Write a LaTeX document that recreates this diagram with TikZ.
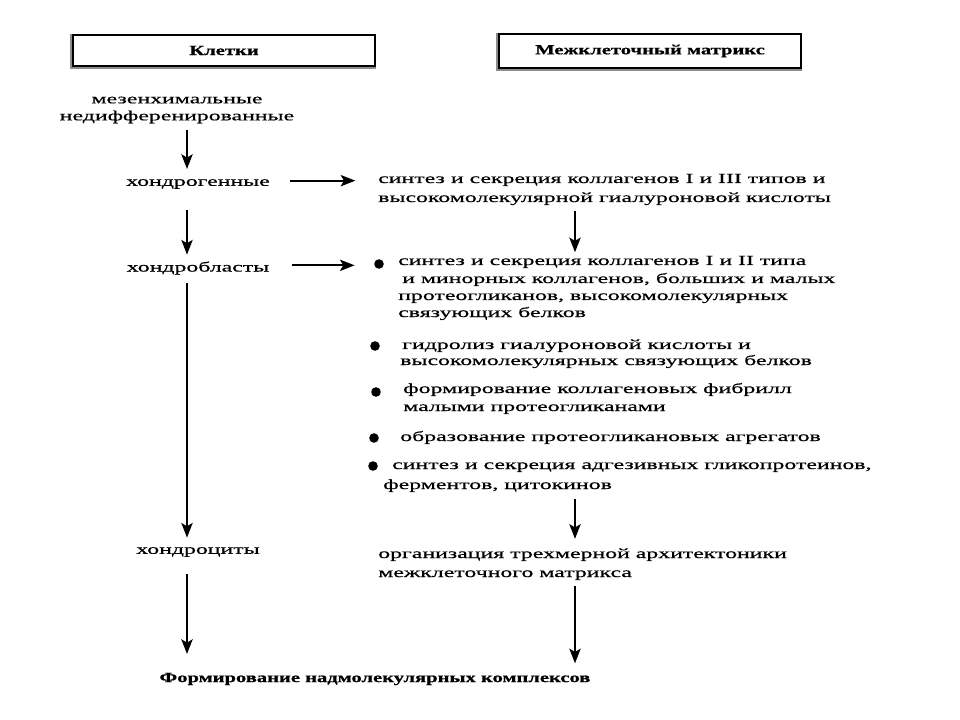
\documentclass[tikz,border=0pt]{standalone}
\usepackage{fontspec}
\setmainfont{Liberation Serif}[FakeStretch=1.7, FakeBold=0.6]
\newfontfamily\bfont{Liberation Serif Bold}[FakeStretch=1.47, FakeBold=0.8]
\usetikzlibrary{arrows.meta}
\begin{document}
\begin{tikzpicture}[x=0.75pt,y=-0.75pt,
  every node/.style={font=\fontsize{10.5}{12.75}\selectfont, inner sep=0pt},
  ln/.style={anchor=base west},
  ctr/.style={align=center},
  bld/.style={font=\fontsize{10.5}{12}\bfont},
  hd/.style={bld, draw=black, line width=1pt},
  shd/.style={draw=black!45, line width=1.6pt},
  arr/.style={line width=1.3pt, -{Stealth[length=11pt,width=8.5pt,inset=2.5pt]}},
  bul/.style={circle, fill=black, minimum size=7.2pt, inner sep=0pt}]
\useasboundingbox (0,0) rectangle (960,720);
\coordinate (L) at (187,0);
\coordinate (R) at (575,0);
% headers
\node[hd, minimum width=226.5pt, minimum height=23.25pt] (hc) at (224,50.5) {Клетки};
\node[hd, minimum width=226.5pt, minimum height=25.5pt] (hm) at (650,51) {Межклеточный матрикс};
\draw[shd] ([xshift=-1.2pt]hc.north west) -- ([xshift=-1.2pt,yshift=-1pt]hc.south west) -- ([yshift=-1pt]hc.south east);
\draw[shd] ([xshift=-1.2pt]hm.north west) -- ([xshift=-1.2pt,yshift=-1pt]hm.south west) -- ([yshift=-1pt]hm.south east);
% left column
\node[ctr] (mes) at (177,110) {мезенхимальные\\недифференированные};
\node (chg) at (198,184) {хондрогенные};
\node (chb) at (198,268) {хондробласты};
\node (chc) at (198,552) {хондроциты};
% right column
\node[ln] (r1a) at (378,183) {синтез и секреция коллагенов I и III типов и};
\node[ln] (r1b) at (378,202) {высокомолекулярной гиалуроновой кислоты};
\node[bul] (d1) at (379,264) {};
\node[ln] (b1a) at (398,265) {синтез и секреция коллагенов I и II типа};
\node[ln] (b1b) at (402,283) {и минорных коллагенов, больших и малых};
\node[ln] (b1c) at (398,300) {протеогликанов, высокомолекулярных};
\node[ln] (b1d) at (398,317) {связующих белков};
\node[bul] (d2) at (375,346) {};
\node[ln] (b2a) at (402,349) {гидролиз гиалуроновой кислоты и};
\node[ln] (b2b) at (400,365) {высокомолекулярных связующих белков};
\node[bul] (d3) at (376,392) {};
\node[ln] (b3a) at (403,393) {формирование коллагеновых фибрилл};
\node[ln] (b3b) at (403,411) {малыми протеогликанами};
\node[bul] (d4) at (374,438) {};
\node[ln] (b4a) at (400,441) {образование протеогликановых агрегатов};
\node[bul] (d5) at (373,466) {};
\node[ln] (b5a) at (392,469) {синтез и секреция адгезивных гликопротеинов,};
\node[ln] (b5b) at (383,489) {ферментов, цитокинов};
\node[ln] (oa) at (378,558) {организация трехмерной архитектоники};
\node[ln] (ob) at (378,577) {межклеточного матрикса};
\node[bld] (fin) at (375,679) {Формирование надмолекулярных комплексов};
% arrows left
\draw[arr, shorten <=4.5pt, shorten >=7.5pt] (L |- mes.south) -- (L |- chg.north);
\draw[arr, shorten <=16pt, shorten >=5pt] (L |- chg.south) -- (L |- chb.north);
\draw[arr, shorten <=6pt, shorten >=7pt] (L |- chb.south) -- (L |- chc.north);
\draw[arr, shorten <=13pt, shorten >=14pt] (L |- chc.south) -- (L |- fin.north);
% horizontal
\draw[arr, shorten <=15pt, shorten >=17pt] ([yshift=2.5pt]chg.east) -- ([yshift=2.5pt]chg.east -| r1a.west);
\draw[arr, shorten <=17pt, shorten >=14.5pt] ([yshift=2pt]chb.east) -- ([yshift=2pt]chb.east -| d1.west);
% arrows right
\draw[arr, shorten <=4pt, shorten >=2.5pt] (R |- r1b.south) -- (R |- b1a.north);
\draw[arr, shorten <=5pt, shorten >=7pt] (R |- b5b.south) -- (R |- oa.north);
\draw[arr, shorten <=4pt, shorten >=7pt] (R |- ob.south) -- (R |- fin.north);
\end{tikzpicture}
\end{document}
